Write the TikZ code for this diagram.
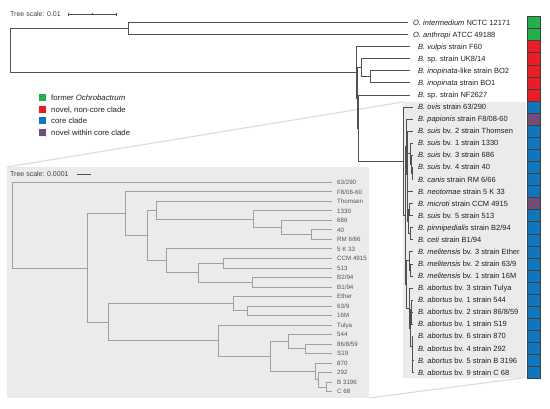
\documentclass[tikz,border=0pt]{standalone}
\usepackage{fontspec}
\setmainfont{Liberation Sans}
\definecolor{gO}{HTML}{22B04A}
\definecolor{rN}{HTML}{ED1C24}
\definecolor{bC}{HTML}{0F75BC}
\definecolor{tl}{HTML}{505050}
\definecolor{insl}{HTML}{A0A0A0}
\definecolor{pn}{HTML}{EBEBEB}
\definecolor{wg}{HTML}{DADADA}
\definecolor{tx}{HTML}{1E1E1E}
\definecolor{itx}{HTML}{555555}
\newcommand\ml[3]{\node[mlab] (m#1) at (#2,{22.5+12.07*(#1-1)}) {#3};}
\newcommand\il[2]{\node[ilab] (i#1t) at (337,{182.3+9.52*#1}) {#2};}
\newcommand\drawcore[2]{%
 \coordinate (#1root) at (12.3,4.5);
 \coordinate (#1B) at (87.7,9);
 \coordinate (#1C) at (125,3.296875);
 \coordinate (#1D) at (147.7,5.59375);
 \coordinate (#1E) at (156.7,2.9375);
 \coordinate (#1F) at (253.3,3.875);
 \coordinate (#1G) at (281,4.75);
 \coordinate (#1H) at (311.7,5.5);
 \coordinate (#1I) at (166.7,8.25);
 \coordinate (#1J) at (198.3,9.5);
 \coordinate (#1K) at (223.3,8.5);
 \coordinate (#1L) at (252.7,10.5);
 \coordinate (#1M) at (108.3,14.703125);
 \coordinate (#1N) at (233.3,12.75);
 \coordinate (#1O) at (247.3,13.5);
 \coordinate (#1P) at (218.3,16.65625);
 \coordinate (#1Q) at (270,18.3125);
 \coordinate (#1R) at (288.3,16.75);
 \coordinate (#1S) at (305.7,17.5);
 \coordinate (#1T) at (315,19.875);
 \coordinate (#1U) at (318,20.75);
 \coordinate (#1V) at (326.7,21.5);
 \foreach \k in {0,...,22}{\coordinate (#1l\k) at (332,\k);}
 \draw[#2] (#1root) |- (#1l0) (#1root) |- (#1B)
   (#1B) |- (#1C) (#1B) |- (#1M)
   (#1C) |- (#1l1) (#1C) |- (#1D)
   (#1D) |- (#1E) (#1D) |- (#1I)
   (#1E) |- (#1l2) (#1E) |- (#1F)
   (#1F) |- (#1l3) (#1F) |- (#1G)
   (#1G) |- (#1l4) (#1G) |- (#1H)
   (#1H) |- (#1l5) (#1H) |- (#1l6)
   (#1I) |- (#1l7) (#1I) |- (#1J)
   (#1J) |- (#1K) (#1J) |- (#1L)
   (#1K) |- (#1l8) (#1K) |- (#1l9)
   (#1L) |- (#1l10) (#1L) |- (#1l11)
   (#1M) |- (#1N) (#1M) |- (#1P)
   (#1N) |- (#1l12) (#1N) |- (#1O)
   (#1O) |- (#1l13) (#1O) |- (#1l14)
   (#1P) |- (#1l15) (#1P) |- (#1Q)
   (#1Q) |- (#1R) (#1Q) |- (#1T)
   (#1R) |- (#1l16) (#1R) |- (#1S)
   (#1S) |- (#1l17) (#1S) |- (#1l18)
   (#1T) |- (#1l19) (#1T) |- (#1U)
   (#1U) |- (#1l20) (#1U) |- (#1V)
   (#1V) |- (#1l21) (#1V) |- (#1l22);
}
\begin{document}
\begin{tikzpicture}[x=1pt,y=-1pt,
  mline/.style={draw=tl,line width=0.8pt},
  iline/.style={draw=insl,line width=0.9pt},
  mlab/.style={anchor=west,inner sep=0pt,text=tx,font=\fontsize{7.5}{8}\selectfont,text height=6.3pt,text depth=1pt},
  slab/.style={anchor=west,inner sep=0pt,text=tx!85,font=\fontsize{7}{8}\selectfont,text height=6pt,text depth=1pt},
  ilab/.style={anchor=west,inner sep=0pt,text=itx,font=\fontsize{6.2}{7}\selectfont,text height=5.4pt,text depth=1pt},
  cell/.style={draw=black!75,line width=0.4pt,minimum width=13pt,minimum height=12.07pt,inner sep=0pt,outer sep=0pt},
  swatch/.style={minimum size=7pt,inner sep=0pt,outer sep=0pt},
  legtext/.style={anchor=west,inner sep=0pt,text=tx,font=\fontsize{7.8}{9}\selectfont,text height=6.5pt,text depth=1pt},
  hatch/.style={draw=rN,line width=1.4pt},
  wedge/.style={draw=wg,line width=1.1pt}
]
\useasboundingbox (0,0) rectangle (550,408);
% projection lines and panels
\coordinate (ipTL) at (7,167);
\coordinate (ipBR) at (369,398);
\coordinate (mpTL) at (403,102);
\coordinate (mpBR) at (526,377.5);
\draw[wedge] (ipTL) -- (mpTL);
\draw[wedge] (ipBR) -- (mpBR);
\fill[pn] (ipTL) rectangle (ipBR);
\fill[pn] (mpTL) rectangle (mpBR);
% top scale
\node[slab] (ts) at (10,14) {Tree scale: 0.01};
\coordinate (sb1) at (68,14);
\coordinate (sb2) at (116,14);
\coordinate (sbm) at (92,14);
\draw[tl,line width=0.6pt] (sb1) -- (sb2);
\draw[tl,line width=0.6pt] (sb1) ++(0,-1.5) -- ++(0,3) (sb2) ++(0,-1.5) -- ++(0,3) (sbm) ++(0,-1) -- ++(0,2);
% main tree
\coordinate (root) at (10,50.41);
\coordinate (Oc) at (128,28.535);
\coordinate (N1) at (356,72.29);
\coordinate (N2) at (357.5,97.94);
\coordinate (X) at (361,67.76);
\coordinate (Inop) at (370,76.815);
\coordinate (N3) at (358,128.11);
\coordinate (t1) at (408,22.5);
\coordinate (t2) at (408,34.57);
\coordinate (t3) at (410,46.64);
\coordinate (t4) at (410,58.71);
\coordinate (t5) at (410,70.78);
\coordinate (t6) at (410,82.85);
\coordinate (t7) at (410,94.92);
\begin{scope}[x=0.0303pt,y=-12.07pt,xshift=402.63pt,yshift=-106.99pt]
\drawcore{m}{mline}
\end{scope}
\draw[mline] (root) |- (Oc) (root) |- (N1)
  (Oc) |- (t1) (Oc) |- (t2)
  (N1) |- (t3) (N1) |- (N2)
  (N2) |- (X) (N2) |- (N3)
  (X) |- (t4) (X) |- (Inop)
  (Inop) |- (t5) (Inop) |- (t6)
  (N3) |- (t7) (N3) |- (mroot);
% main labels
\ml{1}{413}{\textit{O. intermedium} NCTC 12171}
\ml{2}{413}{\textit{O. anthropi} ATCC 49188}
\ml{3}{418}{\textit{B. vulpis} strain F60}
\ml{4}{418}{\textit{B.} sp. strain UK8/14}
\ml{5}{418}{\textit{B. inopinata}-like strain BO2}
\ml{6}{418}{\textit{B. inopinata} strain BO1}
\ml{7}{418}{\textit{B.} sp. strain NF2627}
\ml{8}{418}{\textit{B. ovis} strain 63/290}
\ml{9}{418}{\textit{B. papionis} strain F8/08-60}
\ml{10}{418}{\textit{B. suis} bv. 2 strain Thomsen}
\ml{11}{418}{\textit{B. suis} bv. 1 strain 1330}
\ml{12}{418}{\textit{B. suis} bv. 3 strain 686}
\ml{13}{418}{\textit{B. suis} bv. 4 strain 40}
\ml{14}{418}{\textit{B. canis} strain RM 6/66}
\ml{15}{418}{\textit{B. neotomae} strain 5 K 33}
\ml{16}{418}{\textit{B. microti} strain CCM 4915}
\ml{17}{418}{\textit{B. suis} bv. 5 strain 513}
\ml{18}{418}{\textit{B. pinnipedialis} strain B2/94}
\ml{19}{418}{\textit{B. ceti} strain B1/94}
\ml{20}{418}{\textit{B. melitensis} bv. 3 strain Ether}
\ml{21}{418}{\textit{B. melitensis} bv. 2 strain 63/9}
\ml{22}{418}{\textit{B. melitensis} bv. 1 strain 16M}
\ml{23}{418}{\textit{B. abortus} bv. 3 strain Tulya}
\ml{24}{418}{\textit{B. abortus} bv. 1 strain 544}
\ml{25}{418}{\textit{B. abortus} bv. 2 strain 86/8/59}
\ml{26}{418}{\textit{B. abortus} bv. 1 strain S19}
\ml{27}{418}{\textit{B. abortus} bv. 6 strain 870}
\ml{28}{418}{\textit{B. abortus} bv. 4 strain 292}
\ml{29}{418}{\textit{B. abortus} bv. 5 strain B 3196}
\ml{30}{418}{\textit{B. abortus} bv. 9 strain C 68}
% colour strip
\foreach \i in {1,...,30}{
  \ifnum\i<3 \def\cc{gO}\else\ifnum\i<8 \def\cc{rN}\else\def\cc{bC}\fi\fi
  \node[cell,fill=\cc] (c\i) at (533.5,{22.5+12.07*(\i-1)}) {};
}
\foreach \c in {c9,c16}{
  \begin{scope}
  \clip (\c.south west) rectangle (\c.north east);
  \foreach \o in {-10,-5,0,5,10} \draw[hatch] ([xshift=\o pt]\c.south west) -- ++(14,-14);
  \end{scope}
  \draw[black!75,line width=0.4pt] (\c.south west) rectangle (\c.north east);
}
% legend
\node[swatch,fill=gO] (sw1) at (42.5,97.7) {};
\node[swatch,fill=rN] (sw2) at (42.5,109.3) {};
\node[swatch,fill=bC] (sw3) at (42.5,120.9) {};
\node[swatch,fill=bC] (sw4) at (42.5,132.7) {};
\begin{scope}
\clip (sw4.south west) rectangle (sw4.north east);
\foreach \o in {-6,-2,2,6} \draw[draw=rN,line width=1pt] ([xshift=\o pt]sw4.south west) -- ++(9,-9);
\end{scope}
\node[legtext] (lg1) at (51,97.7) {former \textit{Ochrobactrum}};
\node[legtext] (lg2) at (51,109.3) {novel, non-core clade};
\node[legtext] (lg3) at (51,120.9) {core clade};
\node[legtext] (lg4) at (51,132.7) {novel within core clade};
% inset
\node[slab] (its) at (10,174.3) {Tree scale: 0.0001};
\coordinate (isb1) at (76.7,174.3);
\coordinate (isb2) at (90.7,174.3);
\draw[tl,line width=0.6pt] (isb1) -- (isb2);
\begin{scope}[x=1pt,y=-9.52pt,yshift=-182.3pt]
\drawcore{i}{iline}
\end{scope}
\il{0}{63/290}
\il{1}{F8/08-60}
\il{2}{Thomsen}
\il{3}{1330}
\il{4}{686}
\il{5}{40}
\il{6}{RM 6/66}
\il{7}{5 K 33}
\il{8}{CCM 4915}
\il{9}{513}
\il{10}{B2/94}
\il{11}{B1/94}
\il{12}{Ether}
\il{13}{63/9}
\il{14}{16M}
\il{15}{Tulya}
\il{16}{544}
\il{17}{86/8/59}
\il{18}{S19}
\il{19}{870}
\il{20}{292}
\il{21}{B 3196}
\il{22}{C 68}
\end{tikzpicture}
\end{document}
